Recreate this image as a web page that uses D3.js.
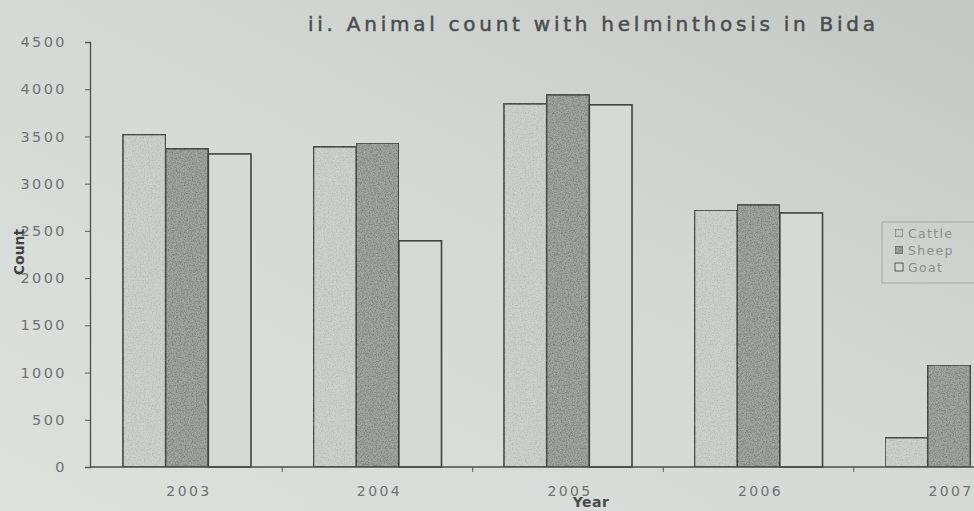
<!DOCTYPE html>
<html>
<head>
<meta charset="utf-8">
<script src="https://cdn.jsdelivr.net/npm/d3@7/dist/d3.min.js"></script>
<style>
  html, body { margin: 0; padding: 0; background: #d6dad7; }
  svg { display: block; }
</style>
</head>
<body>
<svg id="chart" width="974" height="511"></svg>
<script>
// Animal counts with helminthosis in Bida, by year and species
const years = ["2003", "2004", "2005", "2006", "2007"];
const seriesNames = ["Cattle", "Sheep", "Goat"];
const cattle = [3520, 3390, 3845, 2720, 310];
const sheep  = [3370, 3430, 3940, 2775, 1080];
const goat   = [3315, 2395, 3835, 2690, null];
const yTicks = [0, 500, 1000, 1500, 2000, 2500, 3000, 3500, 4000, 4500];

const values = { Cattle: cattle, Sheep: sheep, Goat: goat };
const rows = years.map((yr, i) => ({
  year: yr,
  items: seriesNames.map(s => ({ key: s, value: values[s][i] }))
}));

const W = 974, H = 511;
const svg = d3.select("#chart");

// paper-like backdrop
const defs = svg.append("defs");
const bg = defs.append("linearGradient").attr("id", "paper")
  .attr("x1", "0").attr("y1", "1").attr("x2", "1").attr("y2", "0");
bg.append("stop").attr("offset", "0").attr("stop-color", "#dde1de");
bg.append("stop").attr("offset", "0.55").attr("stop-color", "#d5d9d6");
bg.append("stop").attr("offset", "1").attr("stop-color", "#c4c8c5");
svg.append("rect").attr("width", W).attr("height", H).attr("fill", "url(#paper)");

// grainy print texture for the shaded bars
function grainFilter(id, seed, tone, gain, bias) {
  const f = defs.append("filter").attr("id", id)
    .attr("x", "0").attr("y", "0").attr("width", "1").attr("height", "1")
    .attr("color-interpolation-filters", "sRGB");
  f.append("feTurbulence").attr("type", "fractalNoise")
    .attr("baseFrequency", "0.75").attr("numOctaves", 2).attr("seed", seed).attr("result", "n");
  f.append("feColorMatrix").attr("in", "n").attr("type", "matrix")
    .attr("values", `0 0 0 0 ${tone}  0 0 0 0 ${tone}  0 0 0 0 ${tone}  0 0 0 ${gain} ${bias}`)
    .attr("result", "dots");
  f.append("feComposite").attr("in", "dots").attr("in2", "SourceGraphic")
    .attr("operator", "in").attr("result", "d2");
  const m = f.append("feMerge");
  m.append("feMergeNode").attr("in", "SourceGraphic");
  m.append("feMergeNode").attr("in", "d2");
}
grainFilter("grain", 3, 0.42, 1.6, -0.62);
grainFilter("lightgrain", 7, 0.62, 1.1, -0.48);

const fills = { Cattle: "#cdd1ce", Sheep: "#a2a6a3", Goat: "#d6dad7" };
const filters = { Cattle: "url(#lightgrain)", Sheep: "url(#grain)", Goat: null };

// scales
const axisX = 90, baseY = 467;
const y = d3.scaleLinear().domain([0, 4500]).range([baseY, 42]);
const x0 = d3.scaleBand().domain(years).range([axisX, 1046])
  .paddingInner(0.328).paddingOuter(0.173);
const x1 = d3.scaleBand().domain(seriesNames).range([0, x0.bandwidth()]);

const labelFont = "'DejaVu Sans', 'Liberation Sans', sans-serif";

// bars
const groups = svg.append("g").selectAll("g").data(rows).join("g")
  .attr("transform", d => `translate(${x0(d.year)},0)`);
groups.selectAll("rect")
  .data(d => d.items.filter(it => it.value != null))
  .join("rect")
  .attr("x", d => x1(d.key))
  .attr("width", x1.bandwidth())
  .attr("y", d => y(d.value))
  .attr("height", d => baseY - y(d.value))
  .attr("fill", d => fills[d.key])
  .attr("filter", d => filters[d.key])
  .attr("stroke", "#3f4341")
  .attr("stroke-width", 1.6);

// y axis
const yAxis = d3.axisLeft(y).tickValues(yTicks).tickSize(5).tickPadding(18).tickFormat(d3.format("d"));
const gy = svg.append("g").attr("transform", `translate(${axisX},0)`).call(yAxis);
gy.select(".domain").attr("stroke", "#4a4e4c").attr("stroke-width", 1.3);
gy.selectAll(".tick line").attr("stroke", "#5a5e5c");
gy.selectAll(".tick text")
  .attr("fill", "#6e7270")
  .style("font-family", labelFont)
  .style("font-size", "14.5px")
  .style("letter-spacing", "2.4px");

// x axis: baseline, separators between years, year labels
svg.append("line").attr("x1", axisX).attr("x2", W).attr("y1", baseY).attr("y2", baseY)
  .attr("stroke", "#4a4e4c").attr("stroke-width", 1.3);
const centers = years.map(yr => x0(yr) + x0.bandwidth() / 2);
const seps = centers.slice(1).map((c, i) => (c + centers[i]) / 2);
svg.append("g").selectAll("line").data(seps).join("line")
  .attr("x1", d => d).attr("x2", d => d)
  .attr("y1", baseY).attr("y2", baseY + 5)
  .attr("stroke", "#5a5e5c");
svg.append("g").selectAll("text").data(years).join("text")
  .attr("x", d => x0(d) + x0.bandwidth() / 2 + 2)
  .attr("y", 496)
  .attr("text-anchor", "middle")
  .attr("fill", "#6e7270")
  .style("font-family", labelFont)
  .style("font-size", "14px")
  .style("letter-spacing", "2.4px")
  .text(d => d);

// axis titles
svg.append("text")
  .attr("x", 591).attr("y", 507)
  .attr("text-anchor", "middle")
  .attr("fill", "#464a48")
  .style("font-family", labelFont)
  .style("font-size", "14px")
  .style("font-weight", "bold")
  .style("letter-spacing", "0.5px")
  .text("Year");
svg.append("text")
  .attr("transform", "translate(24,252) rotate(-90)")
  .attr("text-anchor", "middle")
  .attr("fill", "#3e4240")
  .style("font-family", labelFont)
  .style("font-size", "14px")
  .style("font-weight", "bold")
  .text("Count");

// title
svg.append("text")
  .attr("x", 308).attr("y", 31)
  .attr("textLength", 567).attr("lengthAdjust", "spacing")
  .attr("fill", "#4a4e4c")
  .attr("stroke", "#4a4e4c").attr("stroke-width", 0.5)
  .style("font-family", labelFont)
  .style("font-size", "20px")
  .text("ii. Animal count with helminthosis in Bida");

// legend
const lg = svg.append("g").attr("transform", "translate(882,222)");
lg.append("rect").attr("width", 110).attr("height", 61)
  .attr("fill", "none").attr("stroke", "#a4a8a6").attr("stroke-width", 1);
const items = lg.selectAll("g").data(seriesNames).join("g")
  .attr("transform", (d, i) => `translate(13,${11 + i * 17})`);
items.append("rect").attr("x", 0).attr("y", -4).attr("width", 8).attr("height", 8)
  .attr("fill", d => fills[d]).attr("filter", d => filters[d])
  .attr("stroke", "#555957").attr("stroke-width", 1);
items.append("text").attr("x", 13).attr("y", 5)
  .attr("fill", "#8a8e8c")
  .style("font-family", labelFont)
  .style("font-size", "12.5px")
  .style("letter-spacing", "1.3px")
  .text(d => d);
</script>
</body>
</html>
